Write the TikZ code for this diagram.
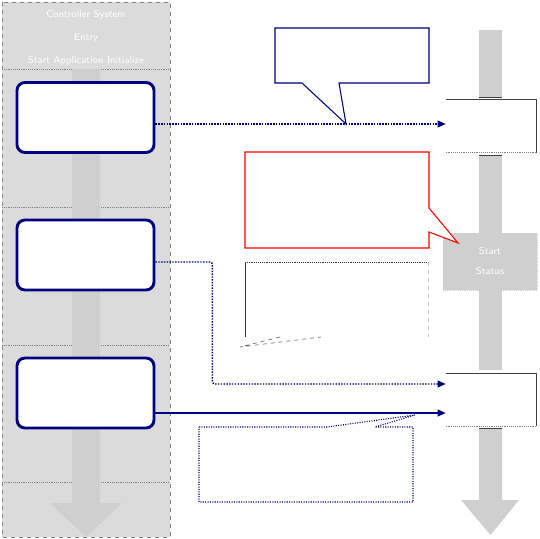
\documentclass[tikz,border=0pt]{standalone}
\usetikzlibrary{arrows.meta,calc}
\definecolor{navy}{RGB}{0,0,128}

\begin{document}
\begin{tikzpicture}[x=0.75pt, y=-0.75pt, >={Triangle[length=6pt,width=5pt]},
  stepbox/.style={draw=navy, line width=2.2pt, rounded corners=6pt, fill=white,
    minimum width=102.75pt, minimum height=52.5pt, inner sep=0pt},
  endbox/.style={minimum width=67.5pt, minimum height=39.5pt, inner sep=0pt},
  link/.style={->, navy, line width=1.1pt},
  lanefill/.style={fill=black!14},
  flowfill/.style={fill=black!19},
  whitetext/.style={text=white, font=\sffamily\fontsize{7.5}{17}\selectfont, align=center},
  note/.style={fill=white, line width=0.8pt}]

  \useasboundingbox[fill=white] (0,0) rectangle (540,539);

  % swimlane on the left
  \draw[lanefill, draw=gray, dashed] (2,2) rectangle (170,537);
  \foreach \y in {69,207,345,482}
    \draw[gray, densely dotted] (2,\y) -- (170,\y);
  \fill[flowfill] (72,69) -- (100,69) -- (100,503) -- (122,503) -- (86,537)
    -- (50,503) -- (72,503) -- cycle;
  \node[whitetext] (lanetitle) at (86,38) {Controller System\\Entry\\Start Application Initialize};

  % flow bar on the right
  \fill[flowfill] (479,30) rectangle (502,97);
  \draw[darkgray] (479,97) -- (502,97);
  \fill[flowfill] (479,155) rectangle (502,370);
  \draw[darkgray] (479,155) -- (502,155);
  \fill[flowfill] (479,428) -- (502,428) -- (502,500) -- (519,500) -- (490.5,535)
    -- (461,500) -- (479,500) -- cycle;
  \draw[darkgray] (479,428) -- (502,428);
  \node[flowfill, draw=black!19, densely dotted, minimum width=70.5pt, minimum height=42.75pt,
    whitetext] (state) at (490,261.5) {Start\\[-2pt]Status};

  % process steps
  \node[stepbox] (box1) at (85.5,117.5) {};
  \node[stepbox] (box2) at (85.5,255) {};
  \node[stepbox] (box3) at (85.5,393) {};

  % targets
  \node[endbox] (R1) at (491,126) {};
  \node[endbox] (R2) at (491,399.5) {};
  \draw[darkgray] (R1.north west) -- (R1.north east) -- (R1.south east);
  \draw[gray, densely dotted] (R1.south west) -- (R1.south east);
  \draw[darkgray] (R2.north west) -- (R2.north east) -- (R2.south east);
  \draw[gray, densely dotted] (R2.south west) -- (R2.south east);

  % callouts
  \coordinate (tip1) at (346,124);
  \draw[navy, note] (275,28) -- (429,28) -- (429,83) -- (339,83) -- (tip1)
    -- (302,83) -- (275,83) -- cycle;
  \coordinate (tip2) at (458,243);
  \draw[red, note] (245,152) -- (429,152) -- (429,208) -- (tip2) -- (429,232)
    -- (429,248) -- (245,248) -- cycle;
  \draw[black!80, densely dotted] (245,262) -- (428,262);
  \draw[black!80] (245,262) -- (245,337);
  \draw[black!25, dashed] (428,262) -- (428,337);
  \coordinate (tip3) at (240,347);
  \draw[black!70, dashed] (280,337) -- (tip3) -- (321,337);
  \coordinate (tip4) at (415,415);
  \draw[navy, note, densely dotted] (199,427) -- (327,427) -- (tip4) -- (375,427)
    -- (413,427) -- (413,502) -- (199,502) -- cycle;

  % connectors
  \coordinate (out1) at ($(box1.east)+(0,6.5)$);
  \draw[link, densely dotted] (out1) -- (out1 -| R1.west);
  \coordinate (out2) at ($(box2.east)+(0,7)$);
  \coordinate (in2) at ($(R2.west)+(0,-15.5)$);
  \draw[link, densely dotted, rounded corners=2pt] (out2) -- ++(57,0) |- (in2);
  \coordinate (out3) at ($(box3.east)+(0,20)$);
  \draw[link] (out3) -- (out3 -| R2.west);
\end{tikzpicture}
\end{document}
